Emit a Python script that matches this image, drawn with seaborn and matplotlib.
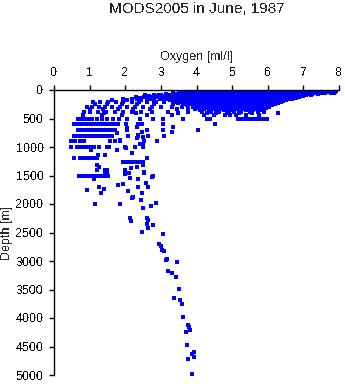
import matplotlib
matplotlib.use("Agg")
import matplotlib.pyplot as plt
import seaborn as sns
import pandas as pd

# Oxygen readings (ml/l) at observed levels; the number in each name is the depth in metres
oxy_0m = [3.68, 3.81, 3.97, 4.08, 4.19, 4.31, 4.43, 4.52, 4.64, 4.77, 4.86, 4.98, 5.09, 5.21, 5.32, 5.41, 5.55, 5.66,
          5.78, 5.87, 5.99, 6.12, 6.23, 6.34, 6.45, 6.57, 6.68, 6.79, 6.91, 7.02, 7.13, 7.26, 7.37, 7.5, 7.61, 7.73]
oxy_10m = [3.9, 4.02, 4.14, 4.25, 4.37, 4.48, 4.58, 4.7, 4.82, 4.92, 5.03, 5.15, 5.26, 5.36, 5.48, 5.6, 5.72, 5.82,
           5.93, 6.05, 6.17, 6.28, 6.39, 6.51, 6.62, 6.73, 6.85, 6.96, 7.07, 7.19, 7.31, 7.42, 7.55, 7.68, 7.8]
oxy_20m = [4.05, 4.16, 4.28, 4.39, 4.5, 4.62, 4.73, 4.84, 4.96, 5.07, 5.19, 5.3, 5.42, 5.53, 5.64, 5.76, 5.88, 5.99,
           6.1, 6.21, 6.33, 6.45, 6.56, 6.67, 6.79, 6.9, 7.01, 7.13, 7.25, 7.36, 7.47, 7.58, 7.7, 7.83, 7.92]
oxy_33m = [3.8, 3.95, 4.1, 4.22, 4.33, 4.44, 4.56, 4.67, 4.79, 4.9, 5.01, 5.13, 5.24, 5.36, 5.47, 5.59, 5.7, 5.82,
           5.93, 6.04, 6.16, 6.27, 6.39, 6.5, 6.61, 6.73, 6.84, 6.96, 7.07, 7.18, 7.3, 7.41, 7.53, 7.66, 7.9]
oxy_45m = [3.35, 3.62, 3.88, 4.0, 4.12, 4.24, 4.35, 4.47, 4.58, 4.7, 4.81, 4.93, 5.04, 5.16, 5.27, 5.39, 5.5, 5.62,
           5.73, 5.85, 5.96, 6.08, 6.19, 6.31, 6.42, 6.54, 6.65, 6.77, 6.88, 7.0, 7.11, 7.23, 7.34, 7.46, 7.6, 7.78, 7.86]
oxy_58m = [3.5, 3.75, 3.94, 4.06, 4.18, 4.3, 4.41, 4.53, 4.64, 4.76, 4.87, 4.99, 5.1, 5.22, 5.33, 5.45, 5.56, 5.68,
           5.79, 5.91, 6.02, 6.14, 6.25, 6.37, 6.48, 6.6, 6.71, 6.83, 6.94, 7.06, 7.17, 7.29, 7.42, 7.55]
oxy_70m = [3.15, 3.4, 3.58, 3.72, 3.86, 3.98, 4.1, 4.22, 4.34, 4.45, 4.57, 4.69, 4.8, 4.92, 5.03, 5.15, 5.27, 5.38,
           5.5, 5.61, 5.73, 5.84, 5.96, 6.07, 6.19, 6.3, 6.42, 6.53, 6.65, 6.76, 6.88, 6.99, 7.11, 7.24, 7.4]
oxy_83m = [2.95, 3.25, 3.5, 3.65, 3.79, 3.92, 4.04, 4.16, 4.28, 4.4, 4.51, 4.63, 4.74, 4.86, 4.97, 5.09, 5.21, 5.32,
           5.44, 5.55, 5.67, 5.78, 5.9, 6.01, 6.13, 6.24, 6.36, 6.47, 6.59, 6.7, 6.82, 6.94, 7.06, 7.2]
oxy_95m = [2.55, 2.8, 3.0, 3.18, 3.32, 3.46, 3.6, 3.73, 3.85, 3.97, 4.09, 4.21, 4.33, 4.45, 4.57, 4.68, 4.8, 4.91,
           5.03, 5.14, 5.26, 5.37, 5.49, 5.6, 5.72, 5.83, 5.95, 6.06, 6.18, 6.29, 6.41, 6.52, 6.64, 6.78, 6.92, 7.08]
oxy_108m = [2.68, 2.9, 3.1, 3.25, 3.39, 3.53, 3.66, 3.79, 3.91, 4.03, 4.15, 4.27, 4.39, 4.51, 4.62, 4.74, 4.86,
            4.97, 5.09, 5.2, 5.32, 5.43, 5.55, 5.66, 5.78, 5.89, 6.01, 6.12, 6.24, 6.35, 6.47, 6.58, 6.71, 6.85, 7.0]
oxy_120m = [2.3, 2.52, 2.72, 2.9, 3.05, 3.2, 3.36, 3.5, 3.64, 3.78, 3.92, 4.05, 4.18, 4.3, 4.42, 4.54, 4.66, 4.78,
            4.9, 5.02, 5.14, 5.26, 5.38, 5.5, 5.62, 5.74, 5.86, 5.98, 6.1, 6.22, 6.34, 6.46, 6.6, 6.74, 6.88]
oxy_135m = [2.42, 2.62, 2.82, 2.97, 3.13, 3.28, 3.43, 3.57, 3.71, 3.85, 3.98, 4.11, 4.24, 4.36, 4.48, 4.6, 4.72,
            4.84, 4.96, 5.08, 5.2, 5.32, 5.44, 5.56, 5.68, 5.8, 5.92, 6.04, 6.16, 6.28, 6.4, 6.53, 6.67, 6.8]
oxy_150m = [1.95, 2.2, 2.42, 2.62, 2.8, 2.98, 3.16, 3.34, 3.5, 3.68, 3.84, 3.98, 4.12, 4.26, 4.4, 4.53, 4.66, 4.79,
            4.92, 5.05, 5.18, 5.31, 5.44, 5.57, 5.7, 5.83, 5.96, 6.09, 6.22, 6.36, 6.52, 6.68]
oxy_165m = [2.32, 2.71, 3.07, 3.42, 3.76, 3.91, 4.05, 4.19, 4.33, 4.46, 4.59, 4.72,
            4.85, 4.98, 5.11, 5.24, 5.37, 5.5, 5.63, 5.76, 5.89, 6.02, 6.15, 6.29, 6.44, 6.6]
oxy_180m = [1.62, 2.06, 2.44, 2.82, 3.25, 3.62, 3.82, 4.0, 4.16, 4.32, 4.48, 4.63,
            4.78, 4.93, 5.08, 5.23, 5.38, 5.53, 5.68, 5.83, 5.98, 6.14, 6.32, 6.5]
oxy_195m = [3.53, 3.72, 3.91, 4.08, 4.24, 4.4, 4.56, 4.71, 4.86, 5.01, 5.16, 5.31, 5.46, 5.61, 5.76, 5.91, 6.06,
            6.23, 6.42]
oxy_210m = [1.1, 1.3, 1.52, 1.74, 1.95, 2.18, 2.38, 2.6, 2.85, 3.1, 3.38, 3.6, 3.8, 4.0, 4.18, 4.36, 4.54, 4.72,
            4.9, 5.06, 5.22, 5.38, 5.54, 5.7, 5.86, 6.02, 6.2, 6.38]
oxy_230m = [3.49, 3.7, 3.9, 4.09, 4.27, 4.45, 4.63, 4.81, 4.98, 5.14, 5.3, 5.46, 5.62, 5.78, 5.94, 6.11, 6.29]
oxy_250m = [1.14, 1.5, 1.92, 2.34, 2.8, 3.34, 3.62, 3.85, 4.05, 4.24, 4.42, 4.6,
            4.78, 4.95, 5.12, 5.3, 5.48, 5.66, 5.84, 6.02, 6.2]
oxy_270m = [3.74, 3.97, 4.14, 4.33, 4.51, 4.69, 4.87, 5.04, 5.21, 5.39, 5.57, 5.75, 5.93, 6.11]
oxy_290m = [0.92, 1.08, 1.26, 1.44, 1.62, 1.84, 2.05, 2.28, 2.5, 2.74, 3.0, 3.3, 3.6, 3.9, 4.15, 4.36, 4.56, 4.76,
            4.95, 5.14, 5.32, 5.5, 5.68, 5.86, 6.04]
oxy_310m = [3.75, 4.05, 4.26, 4.46, 4.66, 4.86, 5.05, 5.23, 5.41, 5.59, 5.77, 5.95]
oxy_330m = [1.0, 1.38, 1.8, 2.22, 2.7, 3.45, 3.95, 4.22, 4.45, 4.66, 4.88, 5.08, 5.28, 5.48, 5.68, 5.88]
oxy_355m = [4.1, 4.34, 4.55, 4.77, 4.98, 5.18, 5.38, 5.59, 5.8]
oxy_380m = [0.84, 1.02, 1.24, 1.46, 1.7, 1.95, 2.2, 2.45, 2.75, 3.2, 3.77, 4.15, 4.4, 4.62, 4.85, 5.05, 5.26, 5.5,
            5.72, 5.9]
oxy_405m = [1.4, 2.3, 3.49, 4.3, 4.56, 4.9, 5.2, 5.55, 6.3]
oxy_430m = [0.82, 1.36, 1.9, 2.6, 3.3, 4.22, 4.5, 4.8, 4.94, 5.1, 5.4, 5.75]
oxy_500m = [0.66, 0.74, 0.82, 0.9, 0.98, 1.06, 1.2, 1.34, 1.5, 1.66, 1.82, 2.05, 2.4, 2.79, 3.07, 3.63, 4.29, 4.38,
            5.17, 5.25, 5.33, 5.41, 5.49, 5.57, 5.65, 5.73, 5.81, 5.89, 5.97]
oxy_600m = [0.56, 0.62, 0.68, 0.74, 0.8, 0.86, 0.92, 0.98, 1.04, 1.1, 1.16, 1.22, 1.28, 1.34, 1.4, 1.46, 1.52, 1.58,
            1.64, 1.72, 1.8, 2.02, 2.36, 2.46, 3.07, 4.52]
oxy_700m = [0.68, 0.74, 0.8, 0.86, 0.92, 0.98, 1.04, 1.1, 1.16, 1.22, 1.28, 1.34, 1.4, 1.46, 1.52, 1.58, 1.64, 1.71,
            2.04, 2.62, 3.05, 4.05]
oxy_800m = [0.56, 0.62, 0.68, 0.74, 0.8, 0.86, 0.92, 0.98, 1.04, 1.1, 1.16, 1.22, 1.28, 1.34, 1.4, 1.46, 1.52, 1.58,
            1.63, 2.09, 2.37, 2.65, 3.1]
oxy_900m = [0.48, 0.6, 0.72, 0.84, 1.57, 1.71, 1.85, 2.53, 2.88]
oxy_1000m = [0.48, 0.65, 0.71, 0.77, 0.83, 0.89, 0.95, 1.01, 1.07, 1.12, 1.27, 1.5, 1.53, 1.99, 2.28, 2.51]
oxy_1200m = [0.56, 0.73, 0.79, 0.85, 0.91, 0.97, 1.03, 1.09, 1.15, 1.2, 2.6]
oxy_1260m = [1.93, 2.0, 2.07, 2.14, 2.21, 2.28, 2.36, 2.44, 2.5]
oxy_1500m = [0.7, 0.76, 0.82, 0.88, 0.94, 1.0, 1.06, 1.12, 1.18, 1.24, 1.3, 1.36, 1.42, 1.48, 1.52, 2.77]

# Single observations between the levels and in the deep water
extra_oxygen = [2.34, 2.46, 2.37, 2.51, 2.04, 1.76, 1.85, 1.78, 1.03, 1.24, 1.43, 2.02, 2.18, 2.42, 2.32, 3.35,
                3.31, 2.51, 2.51, 2.16, 1.99, 2.32, 2.53, 2.11, 1.2, 1.48, 1.43, 1.2, 1.27, 1.5, 1.44, 4.15,
                1.13, 1.25, 1.40, 1.33, 0.94, 1.16, 1.84, 1.81, 1.95, 2.07, 2.19, 2.23, 2.47, 2.44, 2.35, 2.13,
                2.0, 2.0, 2.36, 2.54, 2.57, 2.63, 2.76, 2.85, 2.71, 2.51, 2.14, 2.15, 2.60, 2.64, 2.62, 2.79,
                2.65, 2.48, 3.07, 2.94, 2.99, 3.02, 3.10, 3.13, 3.17, 3.46, 3.21, 3.31, 3.42, 3.52, 3.38, 3.55,
                3.58, 3.61, 3.75, 3.78, 3.83, 3.70, 3.73, 3.93, 3.88, 3.94, 3.75, 3.88]
extra_depth = [643, 731, 790, 818, 673, 760, 877, 1053, 1053, 1146, 1140, 1023, 1099, 947, 848, 643,
               731, 965, 1316, 1374, 1404, 1345, 1450, 1462, 1404, 1462, 1404, 1321, 1351, 1409, 1450, 380,
               1561, 1707, 1743, 1801, 1760, 2006, 1994, 1667, 1649, 1778, 1901, 1883, 1801, 1924, 1707, 1544,
               1480, 1404, 1567, 1444, 1637, 1707, 1532, 1988, 2041, 2076, 2251, 2298, 2251, 2286, 2346, 2368,
               2427, 2491, 2532, 2707, 2743, 2807, 2830, 2988, 2960, 3023, 3175, 3216, 3286, 3491, 3649, 3684,
               3760, 3988, 4123, 4158, 4211, 4251, 4479, 4590, 4637, 4684, 4725, 4988]

levels = {0: oxy_0m, 10: oxy_10m, 20: oxy_20m, 33: oxy_33m, 45: oxy_45m, 58: oxy_58m, 70: oxy_70m,
          83: oxy_83m, 95: oxy_95m, 108: oxy_108m, 120: oxy_120m, 135: oxy_135m, 150: oxy_150m,
          165: oxy_165m, 180: oxy_180m, 195: oxy_195m, 210: oxy_210m, 230: oxy_230m, 250: oxy_250m,
          270: oxy_270m, 290: oxy_290m, 310: oxy_310m, 330: oxy_330m, 355: oxy_355m, 380: oxy_380m,
          405: oxy_405m, 430: oxy_430m, 500: oxy_500m, 600: oxy_600m, 700: oxy_700m, 800: oxy_800m,
          900: oxy_900m, 1000: oxy_1000m, 1200: oxy_1200m, 1260: oxy_1260m, 1500: oxy_1500m}

rows = [(o, d) for d, vals in levels.items() for o in vals]
rows += list(zip(extra_oxygen, extra_depth))
df = pd.DataFrame(rows, columns=["oxygen", "depth"])

sns.set_style("ticks")
plt.rcParams["font.family"] = ["Liberation Sans", "DejaVu Sans"]
plt.rcParams["text.antialiased"] = False

fig = plt.figure(figsize=(3.45, 3.84), dpi=100)
ax = fig.add_axes([54 / 345, 1 - 375 / 384, 285 / 345, 285 / 384])

sns.scatterplot(data=df, x="oxygen", y="depth", marker="s", s=5, color="#0000ff",
                linewidth=0, ax=ax, legend=False)
for coll in ax.collections:
    coll.set_antialiased(False)

ax.set_xlim(0, 8)
ax.set_ylim(5000, 0)
ax.set_xticks(range(0, 9))
ax.set_yticks(range(0, 5001, 500))
ax.xaxis.tick_top()
ax.xaxis.set_label_position("top")
ax.spines["right"].set_visible(False)
ax.spines["bottom"].set_visible(False)
for side in ("left", "top"):
    ax.spines[side].set_linewidth(1.0)
    ax.spines[side].set_color("black")
ax.tick_params(axis="x", which="both", top=True, bottom=False, length=3.5, width=1.0,
               pad=4.5, labelsize=9, colors="black")
ax.tick_params(axis="y", which="both", length=3.5, width=1.0, pad=4, labelsize=9, colors="black")
ax.set_xlabel("Oxygen [ml/l]", fontsize=9, labelpad=5)
ax.set_ylabel("Depth [m]", fontsize=9, labelpad=2)

fig.text((54 + 339) / 2 / 345, 1 - 9 / 384, "MODS2005 in June, 1987", ha="center", va="center", fontsize=11)

fig.savefig("out.png", dpi=100)
